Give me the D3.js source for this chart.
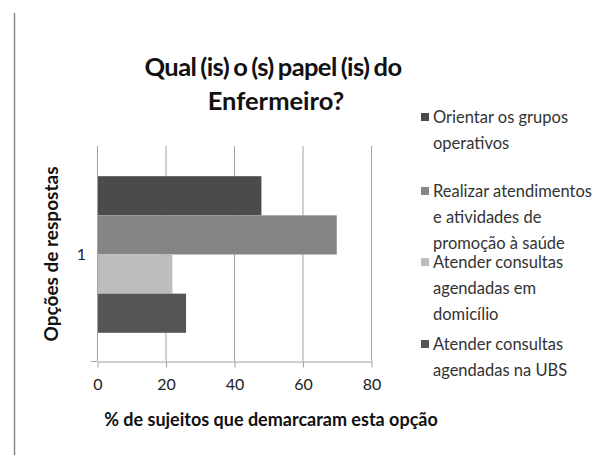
<!DOCTYPE html>
<html>
<head>
<meta charset="utf-8">
<script src="https://cdn.jsdelivr.net/npm/d3@7.9.0/dist/d3.min.js"></script>
<style>
  body { margin: 0; background: #fff; }
  svg { display: block; }
  text { font-family: Lato, 'Open Sans', sans-serif; }
</style>
</head>
<body>
<svg id="chart" width="600" height="455"></svg>
<script>
const categories = ['1'];
const series = [
  'Orientar os grupos operativos',
  'Realizar atendimentos e atividades de promoção à saúde',
  'Atender consultas agendadas em domicílio',
  'Atender consultas agendadas na UBS'
];
const values = [48, 70, 22, 26];
const xTicks = [0, 20, 40, 60, 80];
const legendLines = [
  ['Orientar os grupos', 'operativos'],
  ['Realizar atendimentos', 'e atividades de', 'promoção à saúde'],
  ['Atender consultas', 'agendadas em', 'domicílio'],
  ['Atender consultas', 'agendadas na UBS']
];
const colors = ['#4b4b4b', '#858585', '#bdbdbd', '#555555'];

const svg = d3.select('#chart');

// frame line on the left
svg.append('line')
  .attr('x1', 14.5).attr('x2', 14.5)
  .attr('y1', 13).attr('y2', 455)
  .attr('stroke', '#8a8a8a').attr('stroke-width', 1.5);

// title
const title = svg.append('text')
  .attr('text-anchor', 'middle')
  .attr('font-weight', 'bold')
  .attr('font-size', 25.5)
  .attr('fill', '#111');
title.append('tspan').attr('x', 273).attr('y', 76)
  .attr('letter-spacing', -0.6).attr('word-spacing', -1.5)
  .text('Qual (is) o (s) papel (is) do');
title.append('tspan').attr('x', 276).attr('y', 110).text('Enfermeiro?');

const x = d3.scaleLinear().domain([0, 80]).range([97, 371]);
const y = d3.scaleBand().domain(categories).range([361, 148]).paddingInner(0).paddingOuter(0.18);
const ys = d3.scaleBand().domain(series).range([0, y.bandwidth()]);

// gridlines
svg.append('g')
  .selectAll('line')
  .data(xTicks)
  .join('line')
  .attr('x1', d => x(d) + 0.5).attr('x2', d => x(d) + 0.5)
  .attr('y1', 146).attr('y2', 361)
  .attr('stroke', '#a2a2a2');

// bars
svg.append('g')
  .selectAll('rect')
  .data(series.map((s, i) => ({ s, v: values[i], i })))
  .join('rect')
  .attr('x', x(0) + 1)
  .attr('y', d => y('1') + ys(d.s))
  .attr('width', d => x(d.v) - x(0) - 1)
  .attr('height', ys.bandwidth())
  .attr('fill', d => colors[d.i]);

// x axis
const xAxis = svg.append('g')
  .attr('transform', 'translate(0.5,361.5)')
  .call(d3.axisBottom(x).tickValues(xTicks).tickSize(6).tickSizeOuter(0).tickPadding(11));
xAxis.select('.domain').attr('stroke', '#a2a2a2');
xAxis.selectAll('.tick line').attr('stroke', '#a2a2a2');
xAxis.selectAll('.tick text')
  .attr('font-family', 'Lato, sans-serif')
  .attr('font-size', 16)
  .attr('fill', '#222');

// small category tick left of the axis
svg.append('line')
  .attr('x1', 91).attr('x2', 97)
  .attr('y1', 361.5).attr('y2', 361.5)
  .attr('stroke', '#a2a2a2');

// y axis category label
svg.append('g')
  .selectAll('text')
  .data(categories)
  .join('text')
  .attr('x', 86)
  .attr('y', d => y(d) + y.bandwidth() / 2)
  .attr('dy', '0.35em')
  .attr('text-anchor', 'end')
  .attr('font-size', 16)
  .attr('fill', '#222')
  .text(d => d);

// axis titles
svg.append('text')
  .attr('x', 271).attr('y', 426)
  .attr('text-anchor', 'middle')
  .attr('font-weight', 'bold')
  .attr('font-size', 18)
  .attr('fill', '#111')
  .text('% de sujeitos que demarcaram esta opção');

svg.append('text')
  .attr('transform', 'translate(58,254) rotate(-90)')
  .attr('text-anchor', 'middle')
  .attr('font-weight', 'bold')
  .attr('font-size', 19)
  .attr('fill', '#111')
  .text('Opções de respostas');

// legend
const legendTop = [123, 197, 268, 350];
const lg = svg.append('g');
legendLines.forEach((lines, i) => {
  lg.append('rect')
    .attr('x', 421).attr('y', legendTop[i] - 10)
    .attr('width', 8).attr('height', 8)
    .attr('fill', colors[i]);
  const t = lg.append('text')
    .attr('font-size', 16.5)
    .attr('fill', '#333');
  lines.forEach((ln, j) => {
    t.append('tspan').attr('x', 433).attr('y', legendTop[i] + j * 26).text(ln);
  });
});
</script>
</body>
</html>
